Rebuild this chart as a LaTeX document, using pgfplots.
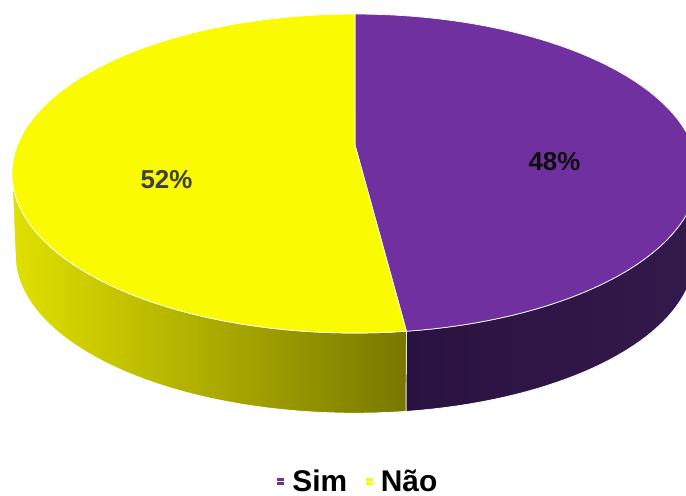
\documentclass[border=0pt]{standalone}
\usepackage{pgfplots}
\pgfplotsset{compat=1.18}
\usepackage{fontspec}
\setmainfont{Liberation Sans}
\definecolor{simtop}{HTML}{7030A0}
\definecolor{naotop}{HTML}{FAFA00}
\definecolor{simsideL}{HTML}{2A1240}
\definecolor{simsideR}{HTML}{34194C}
\definecolor{naosideL}{HTML}{E0E000}
\definecolor{naosideR}{HTML}{787800}
% data (percent)
\def\vSim{48}
\def\vNao{52}
% projection parameters of the 3D pie (pixels)
\def\pcx{355}\def\pcy{145}\def\pS{337.5}\def\pB{154.4}\def\pK{0.179}\def\pD{82}\def\pC{0.99}
\pgfmathsetmacro\aSim{3.6*\vSim}
\pgfmathsetmacro\aL{360-acos(-\pK)}
\pgfmathsetmacro\aR{acos(-\pK)}
\begin{document}
\begin{tikzpicture}
\useasboundingbox (0,0) rectangle (686bp,496bp);
\begin{axis}[
  at={(0,0)}, anchor=south west,
  scale only axis, width=686bp, height=496bp,
  xmin=0, xmax=686, ymin=0, ymax=496, y dir=reverse,
  hide axis, clip=true,
  declare function={
    PX(\ang,\scl)=\pcx+\scl*\pS*sin(\ang)/(1+\pK*cos(\ang));
    PY(\ang,\scl,\off)=\pcy+\off-\scl*\pB*cos(\ang)/(1+\pK*cos(\ang));
  },
  legend style={at={(axis cs:358,481)}, anchor=center, draw=none, fill=none, inner sep=0pt,
    font=\bfseries\fontsize{30}{31}\selectfont, legend columns=2,
    /tikz/every even column/.append style={column sep=16bp}},
  legend image code/.code={\fill[#1,draw=none] (0bp,-3.5bp) rectangle (7bp,3.5bp);
    \path (0bp,0bp) -- (13bp,0bp);},
]
% side faces
\addplot[forget plot, left color=simsideL, right color=simsideR, draw=white, line width=0.7pt,
  samples at={0,1,...,40,100,101,...,140}]
  ({ifthenelse(x<50, PX(\aR+(\aSim-\aR)*x/40,1), PX(\aSim-(\aSim-\aR)*(x-100)/40,\pC))},
   {ifthenelse(x<50, PY(\aR+(\aSim-\aR)*x/40,1,0), PY(\aSim-(\aSim-\aR)*(x-100)/40,\pC,\pD))}) -- cycle;
\addplot[forget plot, left color=naosideL, right color=naosideR, draw=white, line width=0.7pt,
  samples at={0,1,...,40,100,101,...,140}]
  ({ifthenelse(x<50, PX(\aSim+(\aL-\aSim)*x/40,1), PX(\aL-(\aL-\aSim)*(x-100)/40,\pC))},
   {ifthenelse(x<50, PY(\aSim+(\aL-\aSim)*x/40,1,0), PY(\aL-(\aL-\aSim)*(x-100)/40,\pC,\pD))}) -- cycle;
% top faces
\addplot[fill=simtop, draw=white, line width=0.7pt, domain=0:\aSim, samples=90]
  ({PX(x,1)},{PY(x,1,0)}) -- (axis cs:\pcx,\pcy) -- cycle;
\addlegendentry{Sim}
\addplot[fill=naotop, draw=white, line width=0.7pt, domain=\aSim:360, samples=90]
  ({PX(x,1)},{PY(x,1,0)}) -- (axis cs:\pcx,\pcy) -- cycle;
\addlegendentry{Não}
\node[anchor=base, font=\bfseries\fontsize{26}{26}\selectfont, text={rgb,255:red,64;green,64;blue,64}] at (axis cs:166.5,188) {\vNao\%};
\node[anchor=base, font=\bfseries\fontsize{26}{26}\selectfont, text={rgb,255:red,13;green,13;blue,13}] at (axis cs:554.5,170) {\vSim\%};
\end{axis}
\end{tikzpicture}
\end{document}
